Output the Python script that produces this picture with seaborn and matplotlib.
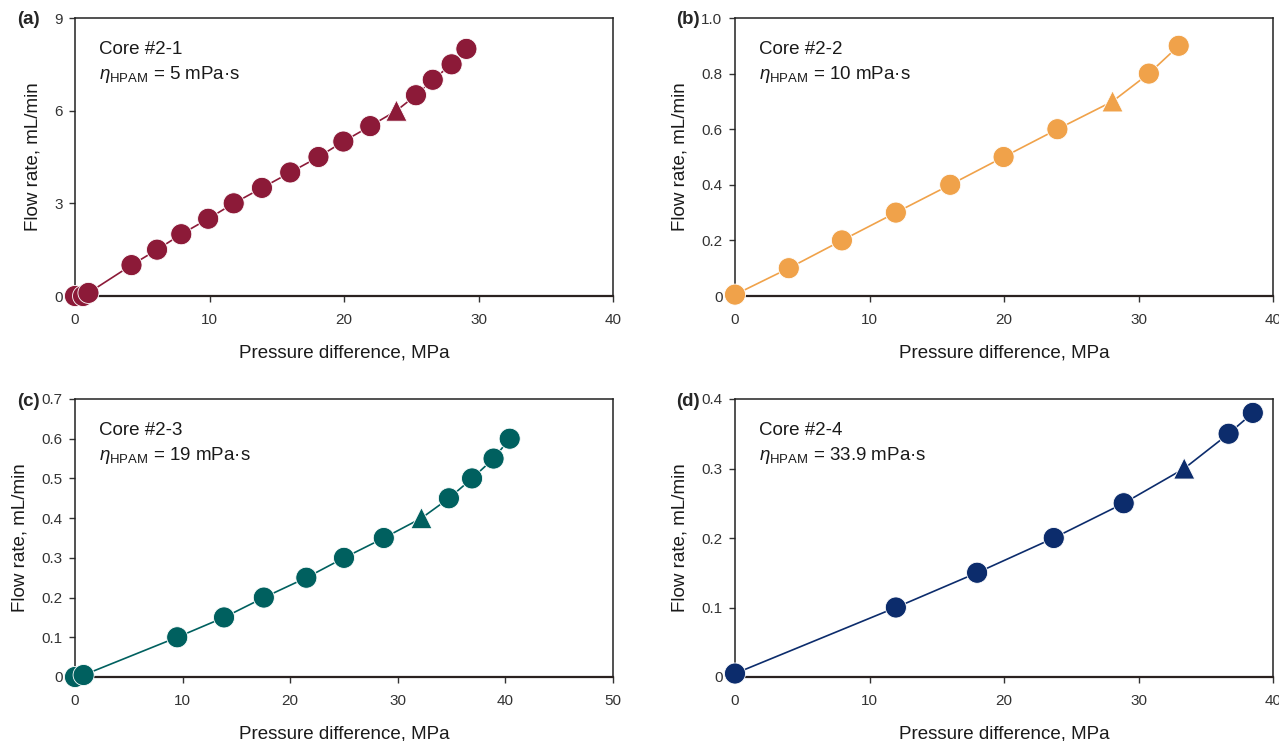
import numpy as np
import matplotlib
matplotlib.use("Agg")
import matplotlib.pyplot as plt
import pandas as pd
import seaborn as sns

######## Data
# (a) Core #2-1
a_dp = [0, 0.6, 1.0, 4.2, 6.1, 7.9, 9.9, 11.8, 13.9, 16.0, 18.1, 19.95, 21.95, 23.9, 25.35, 26.6, 28.0, 29.1]
a_q = [0, 0, 0.1, 1.0, 1.5, 2.0, 2.5, 3.0, 3.5, 4.0, 4.5, 5.0, 5.5, 6.0, 6.5, 7.0, 7.5, 8.0]
a_tri = 13  # index of the triangle point

# (b) Core #2-2
b_dp = [0, 4.0, 7.95, 11.96, 16.0, 19.97, 23.97, 28.07, 30.77, 32.99]
b_q = [0.005, 0.1, 0.2, 0.3, 0.4, 0.5, 0.6, 0.7, 0.8, 0.9]
b_tri = 7

# (c) Core #2-3
c_dp = [0, 0.8, 9.5, 13.85, 17.55, 21.5, 25.0, 28.7, 32.2, 34.75, 36.9, 38.9, 40.4]
c_q = [0, 0.005, 0.1, 0.15, 0.2, 0.25, 0.3, 0.35, 0.4, 0.45, 0.5, 0.55, 0.6]
c_tri = 8

# (d) Core #2-4
d_dp = [0, 11.96, 18.0, 23.7, 28.9, 33.4, 36.7, 38.5]
d_q = [0.005, 0.1, 0.15, 0.2, 0.25, 0.3, 0.35, 0.38]
d_tri = 5

cores = ["Core #2-1", "Core #2-2", "Core #2-3", "Core #2-4"]
visc = ["5", "10", "19", "33.9"]
letters = ["(a)", "(b)", "(c)", "(d)"]
colors = ["#8C1A38", "#F0A24A", "#00605F", "#0C2C6C"]

xticks = [[0, 10, 20, 30, 40], [0, 10, 20, 30, 40], [0, 10, 20, 30, 40, 50], [0, 10, 20, 30, 40]]
yticks = [[0, 3, 6, 9],
          [0, 0.2, 0.4, 0.6, 0.8, 1.0],
          [0, 0.1, 0.2, 0.3, 0.4, 0.5, 0.6, 0.7],
          [0, 0.1, 0.2, 0.3, 0.4]]
yticklabels = [["0", "3", "6", "9"],
               ["0", "0.2", "0.4", "0.6", "0.8", "1.0"],
               ["0", "0.1", "0.2", "0.3", "0.4", "0.5", "0.6", "0.7"],
               ["0", "0.1", "0.2", "0.3", "0.4"]]

panels = [(a_dp, a_q, a_tri), (b_dp, b_q, b_tri), (c_dp, c_q, c_tri), (d_dp, d_q, d_tri)]

######## Style
sns.set_style("ticks")
plt.rcParams["font.family"] = ["Liberation Sans", "DejaVu Sans"]
plt.rcParams["mathtext.fontset"] = "custom"
plt.rcParams["mathtext.rm"] = "Liberation Sans"
plt.rcParams["mathtext.it"] = "Liberation Sans:italic"

fig = plt.figure(figsize=(12.79, 7.41), dpi=100)
W, H = 1279.0, 741.0
# axes boxes in pixels: left, top, right, bottom
boxes = [(75, 18, 613, 296), (735, 18, 1273, 296), (75, 399, 613, 677), (735, 399, 1273, 677)]

for i, (dp, q, tri) in enumerate(panels):
    l, t, r, b = boxes[i]
    ax = fig.add_axes([l / W, 1 - b / H, (r - l) / W, (b - t) / H])
    kind = ["tri" if k == tri else "circ" for k in range(len(dp))]
    df = pd.DataFrame({"dp": dp, "q": q, "kind": kind})

    sns.lineplot(data=df, x="dp", y="q", color=colors[i], lw=1.2, sort=False, ax=ax, zorder=2)
    sns.scatterplot(data=df, x="dp", y="q", style="kind", markers={"circ": "o", "tri": "^"},
                    s=230, color=colors[i], edgecolor="white", linewidth=0.6,
                    legend=False, ax=ax, zorder=3, clip_on=False)

    ax.set_xlim(xticks[i][0], xticks[i][-1])
    ax.set_ylim(yticks[i][0], yticks[i][-1])
    ax.set_xticks(xticks[i])
    ax.set_yticks(yticks[i])
    ax.set_yticklabels(yticklabels[i])
    ax.tick_params(direction="out", length=4, width=1, colors="#333333", labelsize=11)
    ax.tick_params(axis="x", pad=8)
    ax.tick_params(axis="y", pad=5)
    for s in ["left", "top", "right"]:
        ax.spines[s].set_linewidth(1.1)
        ax.spines[s].set_color("#222222")
    ax.spines["bottom"].set_linewidth(1.6)
    ax.spines["bottom"].set_color("#2a2220")

    ax.set_xlabel("Pressure difference, MPa", fontsize=13.5, labelpad=13, color="#1a1a1a")
    ax.set_ylabel("Flow rate, mL/min", fontsize=13.5, labelpad=9, color="#1a1a1a")

    ax.text(0.045, 0.885, cores[i], transform=ax.transAxes, fontsize=13.5, color="#1a1a1a", va="center")
    ax.text(0.045, 0.798, r"$\eta_{\mathrm{HPAM}}$ = " + visc[i] + " mPa·s", transform=ax.transAxes,
            fontsize=13.5, color="#1a1a1a", va="center")
    fig.text((l - 47) / W, 1 - (t + 2) / H, letters[i], fontsize=13.5, fontweight="bold",
             ha="center", va="center")

plt.savefig("out.png", dpi=100)
